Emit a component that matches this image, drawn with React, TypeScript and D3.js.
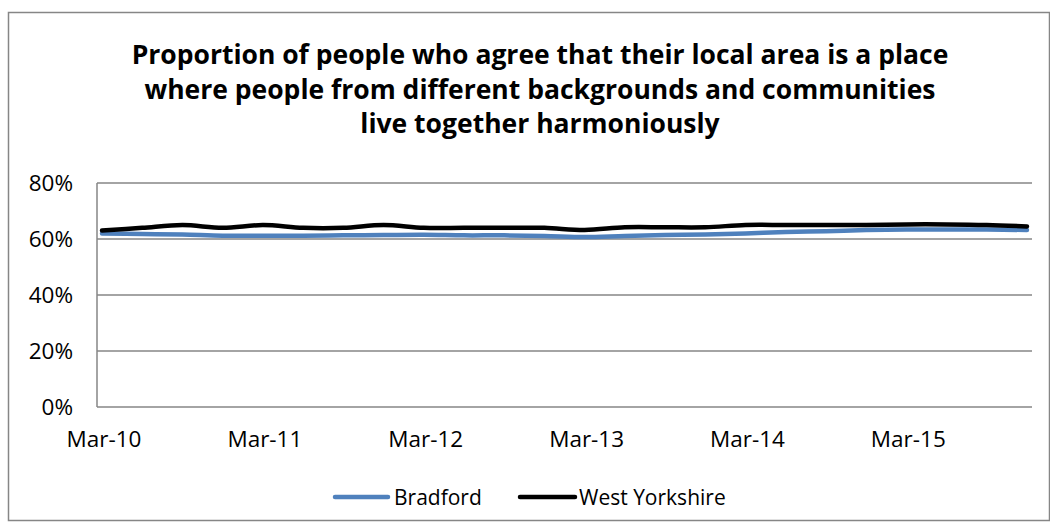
import React from "react";
import * as d3 from "d3";

const title: string[] = [
  "Proportion of people who agree that their local area is a place",
  "where people from different backgrounds and communities",
  "live together harmoniously",
];

const periods: string[] = [
  "Mar-10", "Jun-10", "Sep-10", "Dec-10",
  "Mar-11", "Jun-11", "Sep-11", "Dec-11",
  "Mar-12", "Jun-12", "Sep-12", "Dec-12",
  "Mar-13", "Jun-13", "Sep-13", "Dec-13",
  "Mar-14", "Jun-14", "Sep-14", "Dec-14",
  "Mar-15", "Jun-15", "Sep-15", "Dec-15",
];

const bradford: number[] = [
  0.62, 0.618, 0.616, 0.612, 0.612, 0.612, 0.613, 0.614,
  0.615, 0.613, 0.613, 0.611, 0.607, 0.611, 0.614, 0.616,
  0.62, 0.625, 0.628, 0.632, 0.634, 0.634, 0.634, 0.632,
];

const westYorkshire: number[] = [
  0.63, 0.64, 0.65, 0.64, 0.65, 0.64, 0.64, 0.65,
  0.64, 0.64, 0.64, 0.64, 0.632, 0.642, 0.642, 0.642,
  0.65, 0.65, 0.65, 0.65, 0.652, 0.652, 0.65, 0.645,
];

const yTicks: number[] = [0, 0.2, 0.4, 0.6, 0.8];
const xTickLabels: string[] = ["Mar-10", "Mar-11", "Mar-12", "Mar-13", "Mar-14", "Mar-15"];

const seriesNames: string[] = ["Bradford", "West Yorkshire"];
const seriesColors: string[] = ["#4F81BD", "#000000"];

const FONT = "'Open Sans', 'Noto Sans', sans-serif";
const GRID = "#868686";

export default function App() {
  const W = 1050;
  const H = 529;
  const left = 97;
  const right = 1032;
  const top = 183;
  const bottom = 407;

  const x = d3.scaleLinear().domain([-0.125, periods.length - 1 + 0.125]).range([left, right]);
  const y = d3.scaleLinear().domain([0, 0.8]).range([bottom, top]);

  const line = d3
    .line<number>()
    .x((_, i) => x(i))
    .y((d) => y(d))
    .curve(d3.curveCatmullRom.alpha(0));

  const series = [bradford, westYorkshire];
  const fmt = d3.format(".0%");

  return (
    <svg
      width={W}
      height={H}
      style={{ position: "absolute", left: 0, top: 0, background: "#fff" }}
    >
      <rect x={8.5} y={12.5} width={1041} height={508} fill="#fff" stroke={GRID} strokeWidth={1.5} />

      {title.map((t, i) => (
        <text
          key={i}
          x={540}
          y={64 + i * 34.5}
          textAnchor="middle"
          fontFamily={FONT}
          fontWeight="bold"
          fontSize={26.5}
          fill="#000"
        >
          {t}
        </text>
      ))}

      {yTicks.map((t) => (
        <g key={t}>
          <line x1={left} x2={right} y1={y(t)} y2={y(t)} stroke={GRID} strokeWidth={1.3} />
          <text
            x={73}
            y={y(t)}
            dy="0.35em"
            textAnchor="end"
            fontFamily={FONT}
            fontSize={22.5}
            fill="#000"
          >
            {fmt(t)}
          </text>
        </g>
      ))}
      <line x1={left} x2={left} y1={top} y2={bottom} stroke={GRID} strokeWidth={1.5} />

      {xTickLabels.map((lab) => {
        const i = periods.indexOf(lab);
        return (
          <text
            key={lab}
            x={x(i) + 2}
            y={447}
            textAnchor="middle"
            fontFamily={FONT}
            fontSize={22.5}
            fill="#000"
          >
            {lab}
          </text>
        );
      })}

      {series.map((s, k) => (
        <path
          key={k}
          d={line(s) || ""}
          fill="none"
          stroke={seriesColors[k]}
          strokeWidth={4.5}
          strokeLinejoin="round"
          strokeLinecap="round"
        />
      ))}

      <g>
        <line x1={335} x2={388} y1={497} y2={497} stroke={seriesColors[0]} strokeWidth={4.5} strokeLinecap="round" />
        <text x={394} y={505} fontFamily={FONT} fontSize={21} fill="#000">
          {seriesNames[0]}
        </text>
        <line x1={520} x2={575} y1={497} y2={497} stroke={seriesColors[1]} strokeWidth={4.5} strokeLinecap="round" />
        <text x={579} y={505} fontFamily={FONT} fontSize={21} fill="#000">
          {seriesNames[1]}
        </text>
      </g>
    </svg>
  );
}
